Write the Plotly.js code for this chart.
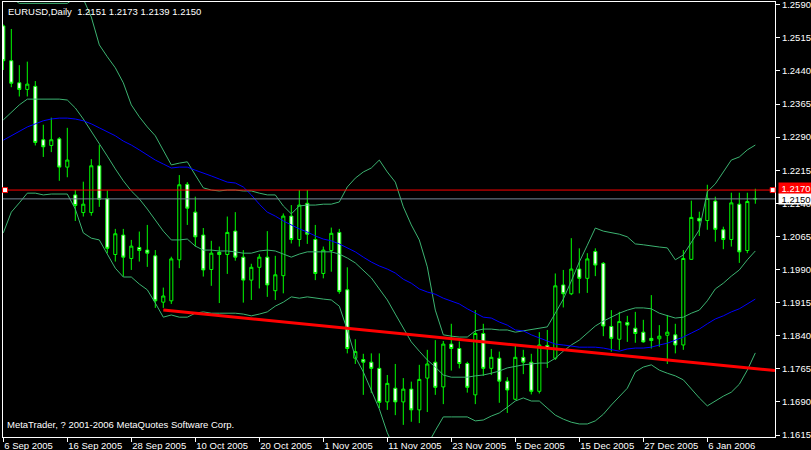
<!DOCTYPE html>
<html><head><meta charset="utf-8">
<script src="https://cdn.plot.ly/plotly-3.0.1.min.js"></script>
<style>html,body{margin:0;padding:0;background:#000;}#chart{width:811px;height:450px;}</style>
</head><body><div id="chart"></div>
<script>
const SYMBOL = "EURUSD";
const PERIOD = "Daily";
const COPYRIGHT = "MetaTrader, ? 2001-2006 MetaQuotes Software Corp.";
const TICK_BARS = [0, 8, 16, 24, 32, 40, 48, 56, 64, 72, 80, 88];
const TICK_LABELS = ["6 Sep 2005","16 Sep 2005","28 Sep 2005","10 Oct 2005","20 Oct 2005","1 Nov 2005","11 Nov 2005","23 Nov 2005","5 Dec 2005","15 Dec 2005","27 Dec 2005","6 Jan 2006"];

const OPEN = [1.2542,1.2463,1.2413,1.2398,1.2405,1.2284,1.2271,1.2286,1.2222,1.2159,
1.2119,1.2119,1.2225,1.2151,1.2024,1.2068,1.2015,1.2040,1.2034,1.2021,
1.1916,1.1919,1.2012,1.2183,1.2120,1.2068,1.1990,1.2029,1.2024,1.2077,
1.2018,1.1966,1.1995,1.2018,1.1942,1.1976,1.2111,1.2058,1.2140,1.2058,
1.1981,1.2033,1.2074,1.1944,1.1789,1.1786,1.1780,1.1766,1.1690,1.1721,
1.1690,1.1719,1.1672,1.1744,1.1780,1.1724,1.1821,1.1811,1.1777,1.1706,
1.1845,1.1766,1.1789,1.1737,1.1696,1.1791,1.1780,1.1714,1.1818,1.1789,
1.1955,1.1935,1.1991,1.1970,1.2031,1.2004,1.1861,1.1832,1.1870,1.1857,
1.1848,1.1834,1.1833,1.1841,1.1842,1.1819,1.2013,1.2106,1.2101,1.2145,
1.2080,1.2058,1.2138,1.2033,1.2151];
const HIGH = [1.2545,1.2535,1.2453,1.2461,1.2417,1.2318,1.2334,1.2290,1.2311,1.2170,
1.2189,1.2240,1.2272,1.2169,1.2082,1.2082,1.2057,1.2076,1.2091,1.2034,
1.1949,1.2019,1.2204,1.2188,1.2155,1.2084,1.2055,1.2042,1.2110,1.2120,
1.2034,1.2003,1.2025,1.2077,1.2021,1.2117,1.2136,1.2170,1.2170,1.2091,
1.2042,1.2085,1.2082,1.1995,1.1832,1.1799,1.1800,1.1800,1.1751,1.1776,
1.1744,1.1736,1.1774,1.1808,1.1830,1.1828,1.1867,1.1827,1.1781,1.1898,
1.1867,1.1810,1.1804,1.1746,1.1819,1.1808,1.1799,1.1848,1.1853,1.1981,
1.1989,1.2061,1.2038,1.2027,1.2038,1.2007,1.1898,1.1894,1.1885,1.1894,
1.1876,1.1932,1.1864,1.1887,1.1867,1.2034,1.2146,1.2121,1.2182,1.2155,
1.2087,1.2164,1.2164,1.2164,1.2173];
const LOW = [1.2442,1.2403,1.2382,1.2382,1.2271,1.2245,1.2256,1.2191,1.2199,1.2100,
1.2110,1.2112,1.2132,1.2027,1.2008,1.1974,1.1989,1.2008,1.1996,1.1903,
1.1903,1.1912,1.1993,1.2091,1.2042,1.1974,1.1953,1.1914,1.1980,1.2010,
1.1915,1.1921,1.1947,1.1928,1.1921,1.1936,1.2049,1.2042,1.2048,1.1966,
1.1970,1.1985,1.1935,1.1800,1.1776,1.1706,1.1710,1.1676,1.1672,1.1660,
1.1638,1.1645,1.1642,1.1667,1.1706,1.1685,1.1761,1.1766,1.1711,1.1685,
1.1749,1.1751,1.1688,1.1665,1.1694,1.1753,1.1707,1.1709,1.1767,1.1785,
1.1904,1.1932,1.1936,1.1937,1.1975,1.1839,1.1804,1.1808,1.1826,1.1824,
1.1824,1.1811,1.1815,1.1776,1.1800,1.1808,1.2012,1.2066,1.2080,1.2053,
1.2036,1.2042,1.2005,1.2027,1.2139];
const CLOSE = [1.2463,1.2412,1.2398,1.2410,1.2278,1.2268,1.2284,1.2222,1.2238,1.2135,
1.2138,1.2225,1.2149,1.2038,1.2071,1.2018,1.2043,1.2033,1.2027,1.1919,
1.1930,1.2014,1.2182,1.2129,1.2064,1.1989,1.2027,1.2024,1.2074,1.2018,
1.1966,1.1995,1.2018,1.1955,1.1978,1.2111,1.2058,1.2136,1.2070,1.1981,
1.2034,1.2072,1.1940,1.1811,1.1804,1.1780,1.1766,1.1689,1.1732,1.1690,
1.1719,1.1672,1.1741,1.1776,1.1723,1.1821,1.1811,1.1777,1.1723,1.1845,
1.1766,1.1791,1.1737,1.1717,1.1791,1.1780,1.1714,1.1819,1.1811,1.1953,
1.1935,1.1991,1.1970,1.2014,1.2000,1.1862,1.1834,1.1872,1.1864,1.1845,
1.1826,1.1829,1.1839,1.1848,1.1819,1.2015,1.2108,1.2100,1.2151,1.2081,
1.2058,1.2141,1.2030,1.2144,1.2150];

const BB_UPPER = [1.2612,1.2606,1.2593,1.2593,1.2593,1.2593,1.2593,1.2593,1.2593,1.2606,
1.2603,1.2562,1.2499,1.2472,1.2447,1.2413,1.2363,1.2336,1.2313,1.2293,
1.2261,1.2227,1.2231,1.2234,1.2204,1.2175,1.2170,1.2168,1.2170,1.2170,
1.2168,1.2168,1.2163,1.2159,1.2159,1.2134,1.2116,1.2134,1.2136,1.2136,
1.2138,1.2138,1.2143,1.2177,1.2197,1.2211,1.2220,1.2238,1.2211,1.2188,
1.2132,1.2091,1.2057,1.1996,1.1898,1.1842,1.1839,1.1837,1.1837,1.1851,
1.1855,1.1855,1.1853,1.1853,1.1848,1.1851,1.1855,1.1857,1.1860,1.1891,
1.1923,1.1964,1.2007,1.2045,1.2084,1.2077,1.2073,1.2070,1.2064,1.2048,
1.2046,1.2043,1.2041,1.2039,1.2012,1.2023,1.2050,1.2080,1.2166,1.2184,
1.2211,1.2238,1.2245,1.2261,1.2272];
const BB_MIDDLE = [1.2329,1.2347,1.2363,1.2376,1.2376,1.2376,1.2376,1.2376,1.2374,1.2356,
1.2331,1.2304,1.2274,1.2247,1.2218,1.2191,1.2168,1.2150,1.2127,1.2102,
1.2077,1.2057,1.2057,1.2059,1.2043,1.2034,1.2034,1.2032,1.2032,1.2030,
1.2027,1.2027,1.2032,1.2034,1.2032,1.2025,1.2018,1.2025,1.2030,1.2030,
1.2030,1.2030,1.2025,1.2016,1.2005,1.1989,1.1971,1.1946,1.1921,1.1889,
1.1857,1.1826,1.1805,1.1785,1.1769,1.1751,1.1746,1.1746,1.1746,1.1749,
1.1751,1.1755,1.1760,1.1767,1.1771,1.1774,1.1776,1.1778,1.1778,1.1789,
1.1805,1.1819,1.1830,1.1846,1.1862,1.1873,1.1882,1.1891,1.1898,1.1903,
1.1903,1.1901,1.1891,1.1885,1.1880,1.1882,1.1891,1.1898,1.1919,1.1946,
1.1959,1.1975,1.1989,1.2012,1.2032];
const BB_LOWER = [1.2073,1.2120,1.2141,1.2163,1.2163,1.2159,1.2161,1.2161,1.2161,1.2127,
1.2073,1.2061,1.2057,1.2025,1.1993,1.1973,1.1973,1.1957,1.1944,1.1914,
1.1882,1.1887,1.1882,1.1882,1.1891,1.1894,1.1891,1.1891,1.1891,1.1891,
1.1889,1.1885,1.1889,1.1894,1.1907,1.1916,1.1928,1.1925,1.1928,1.1925,
1.1923,1.1921,1.1907,1.1853,1.1792,1.1758,1.1717,1.1674,1.1620,1.1581,
1.1563,1.1558,1.1570,1.1592,1.1625,1.1656,1.1656,1.1656,1.1656,1.1647,
1.1649,1.1658,1.1665,1.1678,1.1692,1.1699,1.1692,1.1692,1.1676,1.1660,
1.1651,1.1644,1.1640,1.1640,1.1647,1.1662,1.1683,1.1701,1.1721,1.1758,
1.1769,1.1774,1.1762,1.1755,1.1749,1.1740,1.1719,1.1699,1.1681,1.1692,
1.1703,1.1712,1.1730,1.1762,1.1801];
const MA = [1.2283,1.2293,1.2304,1.2313,1.2320,1.2327,1.2331,1.2333,1.2333,1.2331,
1.2327,1.2320,1.2311,1.2302,1.2293,1.2281,1.2272,1.2261,1.2249,1.2238,
1.2229,1.2220,1.2222,1.2222,1.2215,1.2209,1.2202,1.2195,1.2188,1.2186,
1.2177,1.2159,1.2138,1.2120,1.2111,1.2100,1.2091,1.2082,1.2075,1.2066,
1.2059,1.2055,1.2048,1.2039,1.2030,1.2018,1.2007,1.1998,1.1991,1.1982,
1.1968,1.1959,1.1946,1.1939,1.1934,1.1925,1.1919,1.1912,1.1901,1.1892,
1.1882,1.1880,1.1871,1.1864,1.1853,1.1851,1.1842,1.1835,1.1828,1.1821,
1.1819,1.1817,1.1814,1.1814,1.1814,1.1812,1.1808,1.1805,1.1810,1.1812,
1.1812,1.1814,1.1819,1.1823,1.1830,1.1837,1.1846,1.1855,1.1867,1.1878,
1.1885,1.1894,1.1901,1.1912,1.1923];

const TREND_X = [20, 96.46];
const TREND_Y = [1.1898, 1.1761];
const HLINE_LEVEL = 1.2170;
const BID_LEVEL = 1.2150;

const FONT = "Liberation Sans, Arial, sans-serif";
const idx = OPEN.map((_, i) => i);
const last = OPEN.length - 1;
const GREEN = "#3cb371";

const traces = [
  {type: "candlestick", x: idx, open: OPEN, high: HIGH, low: LOW, close: CLOSE,
   increasing: {line: {color: "#00ff00", width: 1}, fillcolor: "#000000"},
   decreasing: {line: {color: "#00ff00", width: 1}, fillcolor: "#ffffff"},
   whiskerwidth: 0, hoverinfo: "skip"},
  {type: "scatter", mode: "lines", x: idx, y: BB_UPPER, line: {color: GREEN, width: 1}, hoverinfo: "skip"},
  {type: "scatter", mode: "lines", x: idx, y: BB_MIDDLE, line: {color: GREEN, width: 1}, hoverinfo: "skip"},
  {type: "scatter", mode: "lines", x: idx, y: BB_LOWER, line: {color: GREEN, width: 1}, hoverinfo: "skip"},
  {type: "scatter", mode: "lines", x: idx, y: MA, line: {color: "#0000ff", width: 1}, hoverinfo: "skip"},
  {type: "scatter", mode: "lines", x: TREND_X, y: TREND_Y, line: {color: "#ff0000", width: 3}, hoverinfo: "skip"}
];

const nb = "\u00a0";
const header = SYMBOL + "," + PERIOD + nb + nb + [OPEN[last], HIGH[last], LOW[last], CLOSE[last]].map(v => v.toFixed(4)).join(nb);

const handle = (xp) => ({type: "rect", xref: "paper", yref: "y", xsizemode: "pixel", ysizemode: "pixel",
  xanchor: xp, yanchor: HLINE_LEVEL, x0: -2.5, x1: 2.5, y0: -2.5, y1: 2.5,
  line: {color: "#ff0000", width: 1}, fillcolor: "#ffffff", layer: "above"});

const layout = {
  width: 811, height: 450,
  margin: {l: 3, r: 36, t: 2, b: 13, pad: 0},
  paper_bgcolor: "#000000", plot_bgcolor: "#000000",
  showlegend: false, hovermode: false, dragmode: false,
  boxgap: 0.45,
  xaxis: {range: [-0.0375, 96.46], showgrid: false, zeroline: false, showline: true, mirror: true,
    linecolor: "#ffffff", linewidth: 1, ticks: "outside", ticklen: 4, tickcolor: "#ffffff",
    tickmode: "array", tickvals: TICK_BARS, ticktext: TICK_LABELS,
    tickfont: {family: FONT, size: 9.5, color: "#ffffff"}, ticklabelposition: "outside right",
    ticklabeloverflow: "allow", rangeslider: {visible: false}, fixedrange: true},
  yaxis: {side: "right", range: [1.16105, 1.25961], tick0: 1.1615, dtick: 0.0075, tickformat: ".4f",
    showgrid: false, zeroline: false, showline: true, mirror: true, linecolor: "#ffffff", linewidth: 1,
    ticks: "outside", ticklen: 4, tickcolor: "#ffffff", ticklabeloverflow: "allow",
    tickfont: {family: FONT, size: 9.5, color: "#ffffff"}, fixedrange: true},
  shapes: [
    {type: "line", xref: "paper", yref: "y", x0: 0, x1: 1, y0: BID_LEVEL, y1: BID_LEVEL, line: {color: "#778899", width: 1}},
    {type: "line", xref: "paper", yref: "y", x0: 0, x1: 1, y0: HLINE_LEVEL, y1: HLINE_LEVEL, line: {color: "#ff0000", width: 1}},
    handle(0.0026), handle(0.997)
  ],
  annotations: [
    {xref: "paper", yref: "paper", x: 0, y: 0.9793, xanchor: "left", yanchor: "middle", xshift: 2.7,
     text: header, showarrow: false, font: {family: FONT, size: 9.5, color: "#ffffff"}},
    {xref: "paper", yref: "paper", x: 0, y: 0.0276, xanchor: "left", yanchor: "middle", xshift: 2,
     text: COPYRIGHT, showarrow: false, font: {family: FONT, size: 9.5, color: "#ffffff"}},
    {xref: "paper", yref: "y", x: 1, y: HLINE_LEVEL, xanchor: "left", yanchor: "middle", xshift: 2.7, yshift: 2,
     text: HLINE_LEVEL.toFixed(4), showarrow: false, bgcolor: "#ff0000", borderpad: 0, width: 34, height: 11, align: "center",
     font: {family: FONT, size: 9.5, color: "#ffffff"}},
    {xref: "paper", yref: "y", x: 1, y: BID_LEVEL, xanchor: "left", yanchor: "middle", xshift: 2.7, yshift: 0,
     text: BID_LEVEL.toFixed(4), showarrow: false, bgcolor: "#ffffff", borderpad: 0, width: 34, height: 10, align: "center",
     font: {family: FONT, size: 9.5, color: "#000000"}}
  ]
};

Plotly.newPlot("chart", traces, layout, {displayModeBar: false, staticPlot: true});
</script>
</body></html>
